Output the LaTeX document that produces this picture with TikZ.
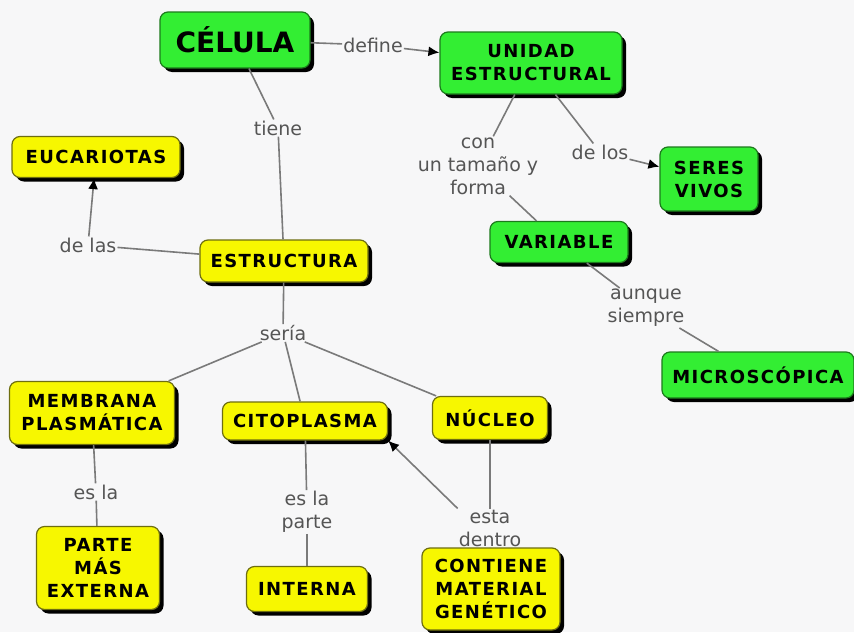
\documentclass[tikz,border=0pt]{standalone}
\usepackage{fontspec}
\setmainfont{DejaVu Sans}
\newfontfamily\boxfont[LetterSpace=8]{DejaVu Sans}
\usepackage{tikz}
\usetikzlibrary{positioning,arrows.meta,shapes,shadows}
\definecolor{bgcol}{HTML}{F7F7F8}
\definecolor{ycol}{HTML}{F7F700}
\definecolor{yline}{HTML}{6E6E10}
\definecolor{gcol}{HTML}{33EE33}
\definecolor{gline}{HTML}{1C7A1C}
\definecolor{lcol}{HTML}{7A7A7A}
\definecolor{tcol}{HTML}{555555}
\tikzset{
	boxshadow/.style={drop shadow={shadow xshift=4pt,shadow yshift=-4pt,fill=black,opacity=1}}
}
\tikzstyle{block} = [rectangle, rounded corners=8pt, line width=1.2pt, boxshadow, align=center, inner sep=2pt, font=\boxfont\bfseries\fontsize{18}{23}\selectfont]
\tikzstyle{yblock} = [block, fill=ycol, draw=yline]
\tikzstyle{gblock} = [block, fill=gcol, draw=gline]
\tikzstyle{link} = [fill=bgcol, text=tcol, align=center, inner sep=1pt, font=\fontsize{19}{23}\selectfont]
\tikzstyle{line} = [draw=lcol, line width=1.6pt]
\tikzstyle{arrow} = [draw=lcol, line width=1.6pt, -{Latex[length=11pt,width=10pt,color=black]}]

\begin{document}
\begin{tikzpicture}[x=1pt, y=-1pt]
	\fill[bgcol] (0,0) rectangle (854,632);
	\useasboundingbox (0,0) rectangle (854,632);
		\node[gblock, minimum width=150pt, minimum height=56pt, font=\bfseries\fontsize{28}{32}\selectfont] (celula) at (235,40) {CÉLULA};
		\node[gblock, minimum width=182pt, minimum height=62pt] (unidad) at (531,63) {UNIDAD\\ESTRUCTURAL};
		\node[yblock, minimum width=168pt, minimum height=41pt] (eucariotas) at (96,157) {EUCARIOTAS};
		\node[yblock, minimum width=168pt, minimum height=42pt] (estructura) at (284,261) {ESTRUCTURA};
		\node[gblock, minimum width=98pt, minimum height=64pt] (seres) at (709,179) {SERES\\VIVOS};
		\node[gblock, minimum width=138pt, minimum height=41pt] (variable) at (559,242) {VARIABLE};
		\node[gblock, minimum width=192pt, minimum height=46pt] (micro) at (758,375) {MICROSCÓPICA};
		\node[yblock, minimum width=165pt, minimum height=63pt] (membrana) at (92,413) {MEMBRANA\\PLASMÁTICA};
		\node[yblock, minimum width=165pt, minimum height=38pt] (citoplasma) at (305,421) {CITOPLASMA};
		\node[yblock, minimum width=115pt, minimum height=43pt] (nucleo) at (490,418) {NÚCLEO};
		\node[yblock, minimum width=123pt, minimum height=83pt] (parte) at (98,568) {PARTE\\MÁS\\EXTERNA};
		\node[yblock, minimum width=121pt, minimum height=45pt] (interna) at (307,589) {INTERNA};
		\node[yblock, minimum width=138pt, minimum height=82pt] (contiene) at (491,589) {CONTIENE\\MATERIAL\\GENÉTICO};
		\node[link] (define) at (373,45) {define};
		\node[link] (tiene) at (278,128) {tiene};
		\node[link] (delas) at (88,245) {de las};
		\node[link] (con) at (478,166) {con\\un tamaño y\\forma};
		\node[link] (delos) at (600,152) {de los};
		\node[link] (aunque) at (646,308) {aunque\\siempre};
		\node[link] (seria) at (283,333) {sería};
		\node[link] (esla) at (96,492) {es la};
		\node[link] (eslaparte) at (307,512) {es la\\parte};
		\node[link] (esta) at (490,528) {esta\\dentro};
		\draw[line] (celula) -- (define);
		\draw[arrow] (define) -- (unidad);
		\draw[line] (celula) -- (tiene);
		\draw[line] (tiene) -- (estructura);
		\draw[line] (estructura) -- (delas);
		\draw[arrow] (delas) -- (eucariotas);
		\draw[line] (unidad) -- (con);
		\draw[line] (con) -- (variable);
		\draw[line] (unidad) -- (delos);
		\draw[arrow] (delos) -- (seres);
		\draw[line] (variable) -- (aunque);
		\draw[line] (aunque) -- (micro);
		\draw[line] (estructura) -- (seria);
		\draw[line] (seria) -- (membrana);
		\draw[line] (seria) -- (citoplasma);
		\draw[line] (seria) -- (nucleo);
		\draw[line] (membrana) -- (esla);
		\draw[line] (esla) -- (parte);
		\draw[line] (citoplasma) -- (eslaparte);
		\draw[line] (eslaparte) -- (interna);
		\draw[line] (nucleo) -- (esta);
		\draw[line] (esta) -- (contiene);
		\draw[arrow] (esta.north west) -- (citoplasma.south east);
	\end{tikzpicture}
\end{document}
